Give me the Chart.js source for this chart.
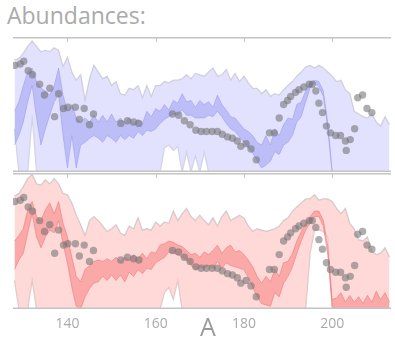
<!DOCTYPE html>
<html><head><meta charset="utf-8">
<script src="https://cdn.jsdelivr.net/npm/chart.js@4.4.1/dist/chart.umd.min.js"></script>
<style>
html,body{margin:0;padding:0;background:#fff;overflow:hidden}
body{width:395px;height:340px;position:relative;font-family:"Open Sans",sans-serif}
#title{position:absolute;left:7px;top:4px;font-size:23px;color:#aaa;line-height:1;white-space:nowrap}
#xname{position:absolute;left:200px;top:314px;font-size:25px;color:#999;line-height:1}
canvas{position:absolute;left:0}
</style></head><body>
<div id="title">Abundances:</div>
<canvas id="c1" width="395" height="148" style="top:30px"></canvas>
<canvas id="c2" width="395" height="174" style="top:166px"></canvas>
<div id="xname">A</div>
<script>
// residue positions (x categories)
const residues = [128,129,130,131,132,133,134,135,136,137,138,139,140,141,142,143,144,145,146,147,
  148,149,150,151,152,153,154,155,156,157,158,159,160,161,162,163,164,165,166,167,
  168,169,170,171,172,173,174,175,176,177,178,179,180,181,182,183,184,185,186,187,
  188,189,190,191,192,193,194,195,196,197,198,199,200,201,202,203,204,205,206,207,
  208,209,210,211,212,213];
const xTicks = [140,160,180,200];

// top panel (blue)
const topOuterHi = [83,84,88,93,97,93,89,90,89,92, 90,78,85,74,68,72,53,69,79,74,
  69,71,64,67,58,57,62,61,64,55, 64,56,64,64,67,66,68,68,69,72,
  69,73,72,71,74,77,71,72,76,68, 73,67,71,66,62,62,58,61,56,58,
  57,61,64,67,71,74,78,79,77,79, 77,74,71,67,68,61,58,45,43,41,
  40,43,37,34,41,35];
const topOuterLo = [32,0,0,0,42,0,0,0,0,0, 0,0,0,0,0,0,0,0,0,0,
  0,0,0,0,0,0,0,0,0,0, 0,0,0,0,18,20,16,19,0,15,
  0,12,0,15,0,0,0,0,0,0, 0,0,0,0,0,0,0,0,0,0,
  0,0,0,0,0,0,0,0,0,0, 0,0,0,0,0,0,0,0,0,0,
  0,0,0,0,0,0];
const topInnerHi = [45,52,64,74,77,67,62,60,57,64, 77,57,45,50,40,37,40,37,42,37,
  42,37,43,37,40,36,40,36,39,36, 45,41,47,45,50,46,53,51,58,52,
  53,48,53,50,52,48,57,50,46,41, 40,36,32,30,27,22,20,27,20,32,
  27,35,40,39,50,52,60,66,68,67, 60,37,0,0,0,0,0,0,0,0,
  0,0,0,0,0,0];
const topInnerLo = [20,27,37,52,64,40,20,32,42,52, 57,27,3,27,3,20,22,25,27,25,
  22,27,25,22,27,24,27,25,30,27, 31,30,32,36,39,41,43,42,46,42,
  42,40,40,40,42,41,45,41,36,32, 30,26,22,18,14,8,3,5,8,15,
  13,20,22,27,37,41,52,62,66,63, 56,32,0,0,0,0,0,0,0,0,
  0,0,0,0,0,0];

// bottom panel (red)
const botOuterHi = [83,85,90,96,99,92,91,95,92,96, 92,85,84,78,69,62,54,65,68,65,
  61,57,59,62,56,54,61,59,67,58, 59,58,64,61,64,63,72,65,70,74,
  68,65,69,65,62,67,61,68,72,65, 67,69,67,61,57,59,58,57,58,59,
  61,65,67,72,75,78,81,81,84,80, 81,81,79,74,70,74,63,59,51,50,
  53,42,40,41,45,38];
const botOuterLo = [21,0,0,0,21,0,0,0,0,0, 0,0,0,0,0,0,0,0,0,0,
  0,0,0,0,0,0,0,0,0,0, 0,0,0,0,12,16,7,21,0,0,
  0,0,0,0,0,0,0,0,0,0, 0,0,0,0,0,0,0,0,0,0,
  0,0,0,0,0,0,0,41,58,58, 57,53,0,0,0,0,0,0,0,0,
  0,0,0,0,0,0];
const botInnerHi = [50,54,59,73,79,68,65,73,78,70, 79,63,53,38,24,20,29,32,35,36,
  35,37,35,38,35,38,36,40,37,41, 37,42,41,47,48,50,49,47,46,43,
  40,41,38,42,40,43,47,41,45,47, 42,43,40,36,31,24,19,24,20,29,
  24,34,35,41,50,57,63,68,72,72, 65,46,7,8,12,5,10,5,9,4,
  10,5,13,7,12,5];
const botInnerLo = [29,36,41,56,70,53,45,53,58,56, 65,48,34,16,2,0,9,15,19,20,
  24,21,25,21,25,20,27,24,29,26, 30,29,34,36,38,42,41,40,38,36,
  32,29,31,30,32,30,35,30,34,32, 31,30,29,23,16,9,4,3,2,12,
  9,19,24,31,41,50,58,63,68,68, 61,40,2,0,0,0,0,0,0,0,
  0,0,0,0,0,0];

// measured abundances (dots), shared by both panels
const dotX = [128.1,129.3,130.1,131.1,132.1,133.7,134.8,136.0,137.1,138.0,139.1,140.1,141.8,142.7,143.8,145.0,145.9,
  152.1,153.6,155.0,156.2,
  163.8,165.2,166.5,167.8,169.1,170.3,171.5,172.8,174.0,175.1,176.3,177.4,178.5,179.3,180.5,181.6,182.8,
  185.8,186.9,188.0,189.0,189.9,190.6,191.7,192.5,193.6,194.8,195.5,196.3,197.0,197.8,198.7,199.6,200.8,201.9,203.0,203.2,204.1,205.1,205.8,206.9,207.9,209.0];
const dotY = [79,80,82,75,72,65,57,62,41,58,47,48,48,39,47,35,43,
  36,38,37,36,
  43,42,38,35,31,30,30,30,30,28,26,25,23,19,21,17,9,
  29,29,40,50,53,56,59,61,63,65,65,60,51,44,34,29,27,27,23,16,24,32,55,57,47,44];

const X_MIN = 127.66, X_MAX = 213.34;

function pts(arr){ return residues.map((r,i)=>({x:r, y:arr[i]})); }
const dots = dotX.map((x,i)=>({x, y:dotY[i]}));

function band(hi, lo, fill, line, w, order){
  return [
    {type:'line', data:pts(hi), fill:'+1', backgroundColor:fill, borderColor:line, borderWidth:w, pointRadius:0, tension:0, order},
    {type:'line', data:pts(lo), fill:false, borderColor:line, borderWidth:w, pointRadius:0, tension:0, order}
  ];
}

const frame = {
  id:'frame',
  afterDatasetsDraw(chart, args, o){
    const {ctx, chartArea:a, scales:{x}} = chart;
    ctx.save();
    ctx.strokeStyle = '#c4c4c4';
    ctx.lineWidth = 1.5;
    ctx.beginPath();
    if (o.top){ ctx.moveTo(a.left, a.top+0.75); ctx.lineTo(a.right, a.top+0.75); }
    if (o.bottom){ ctx.moveTo(a.left, a.bottom-0.75); ctx.lineTo(a.right, a.bottom-0.75); }
    ctx.stroke();
    ctx.lineWidth = 1;
    ctx.beginPath();
    for (const v of xTicks){
      const px = Math.round(x.getPixelForValue(v)) + 0.5;
      ctx.moveTo(px, a.top); ctx.lineTo(px, a.top + 5);
    }
    ctx.stroke();
    ctx.restore();
  }
};

function makeChart(id, datasets, showX, padding, frameOpts){
  const xScale = {type:'linear', min:X_MIN, max:X_MAX, display:showX,
    grid:{display:false, drawTicks:false}, border:{display:false},
    afterBuildTicks:(s)=>{ s.ticks = xTicks.map(v=>({value:v})); },
    ticks:{color:'#aaa', padding:7, font:{family:'"Open Sans", sans-serif', size:14}, maxRotation:0}};
  if (showX) xScale.afterFit = (s)=>{ s.height = 31; };
  return new Chart(document.getElementById(id), {
    type:'line',
    data:{datasets},
    options:{
      responsive:false, animation:false, devicePixelRatio:1,
      layout:{padding},
      plugins:{legend:{display:false}, tooltip:{enabled:false}, frame:frameOpts},
      scales:{ x:xScale, y:{min:0, max:100, display:false} }
    },
    plugins:[frame]
  });
}

const topSets = [
  ...band(topOuterHi, topOuterLo, 'rgba(212,212,255,0.68)', 'rgba(200,200,210,0.8)', 1.3, 3),
  ...band(topInnerHi, topInnerLo, 'rgba(145,145,240,0.45)', 'rgba(150,150,232,0.5)', 1, 2),
  {type:'scatter', data:dots, backgroundColor:'rgba(115,115,115,0.58)', borderWidth:0, pointRadius:3.7, order:1}
];
const botSets = [
  ...band(botOuterHi, botOuterLo, 'rgba(255,190,190,0.6)', 'rgba(205,195,195,0.8)', 1.3, 3),
  ...band(botInnerHi, botInnerLo, 'rgba(245,115,115,0.47)', 'rgba(235,115,115,0.55)', 1, 2),
  {type:'scatter', data:dots, backgroundColor:'rgba(115,115,115,0.58)', borderWidth:0, pointRadius:3.7, order:1}
];

makeChart('c1', topSets, false, {left:13, right:0, top:7, bottom:6}, {top:true, bottom:true});
makeChart('c2', botSets, true, {left:13, right:0, top:7, bottom:0}, {top:true, bottom:true});
</script>
</body></html>
